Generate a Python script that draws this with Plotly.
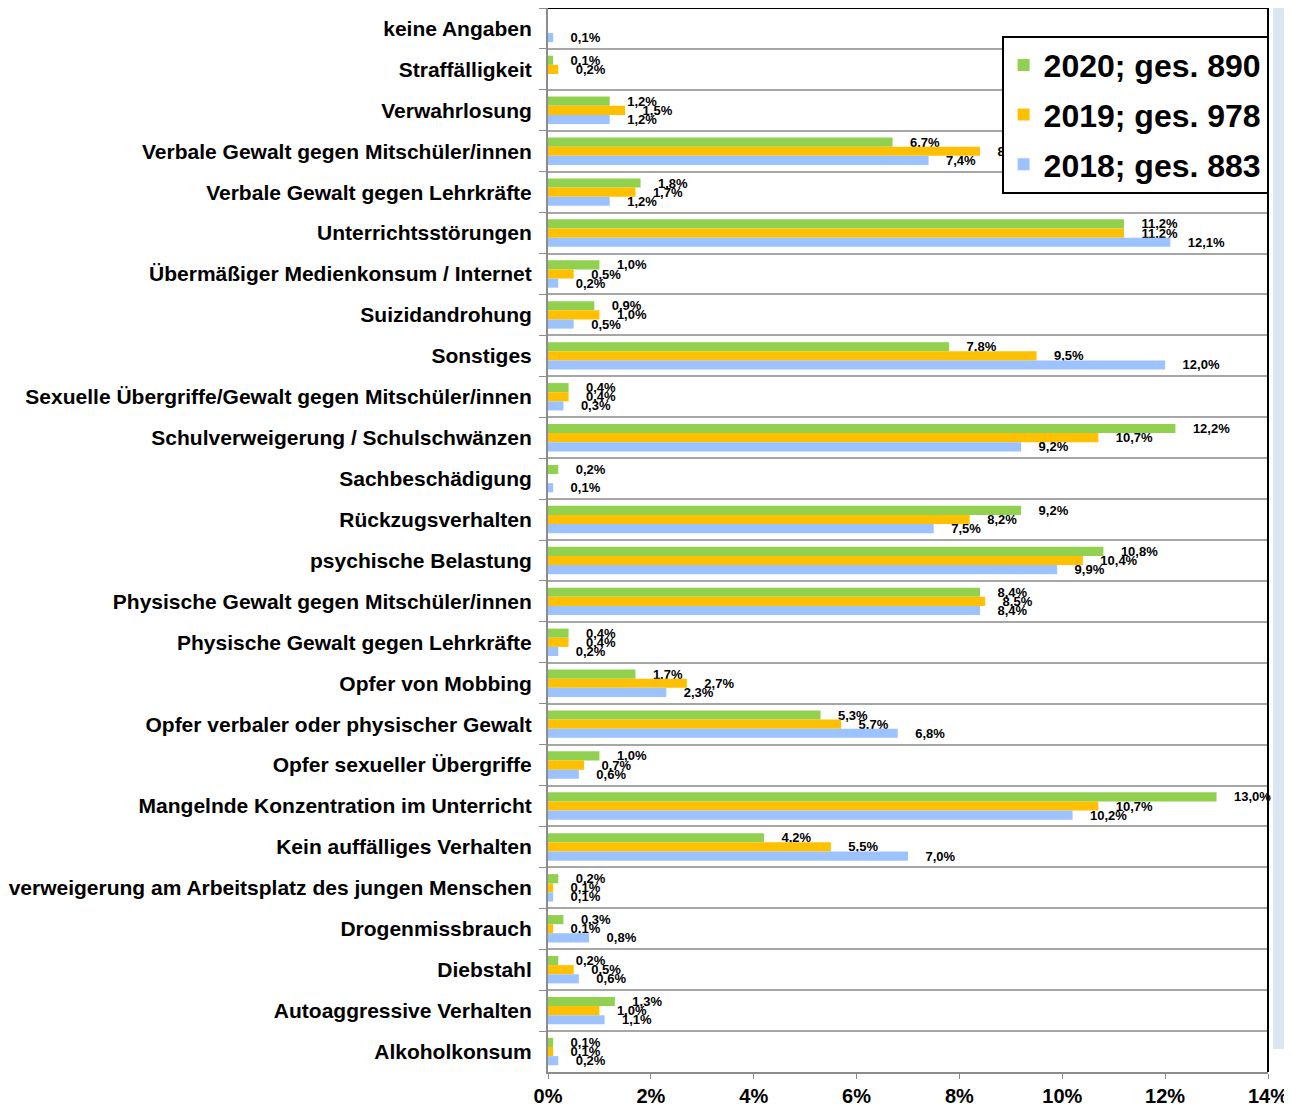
import plotly.graph_objects as go

categories = [
    "keine Angaben",
    "Straffälligkeit",
    "Verwahrlosung",
    "Verbale Gewalt gegen Mitschüler/innen",
    "Verbale Gewalt gegen Lehrkräfte",
    "Unterrichtsstörungen",
    "Übermäßiger Medienkonsum / Internet",
    "Suizidandrohung",
    "Sonstiges",
    "Sexuelle Übergriffe/Gewalt gegen Mitschüler/innen",
    "Schulverweigerung / Schulschwänzen",
    "Sachbeschädigung",
    "Rückzugsverhalten",
    "psychische Belastung",
    "Physische Gewalt gegen Mitschüler/innen",
    "Physische Gewalt gegen Lehrkräfte",
    "Opfer von Mobbing",
    "Opfer verbaler oder physischer Gewalt",
    "Opfer sexueller Übergriffe",
    "Mangelnde Konzentration im Unterricht",
    "Kein auffälliges Verhalten",
    "Arbeitsverweigerung am Arbeitsplatz des jungen Menschen",
    "Drogenmissbrauch",
    "Diebstahl",
    "Autoaggressive Verhalten",
    "Alkoholkonsum",
]

v2020 = [None, 0.1, 1.2, 6.7, 1.8, 11.2, 1.0, 0.9, 7.8, 0.4, 12.2, 0.2, 9.2, 10.8,
         8.4, 0.4, 1.7, 5.3, 1.0, 13.0, 4.2, 0.2, 0.3, 0.2, 1.3, 0.1]
v2019 = [None, 0.2, 1.5, 8.4, 1.7, 11.2, 0.5, 1.0, 9.5, 0.4, 10.7, None, 8.2, 10.4,
         8.5, 0.4, 2.7, 5.7, 0.7, 10.7, 5.5, 0.1, 0.1, 0.5, 1.0, 0.1]
v2018 = [0.1, None, 1.2, 7.4, 1.2, 12.1, 0.2, 0.5, 12.0, 0.3, 9.2, 0.1, 7.5, 9.9,
         8.4, 0.2, 2.3, 6.8, 0.6, 10.2, 7.0, 0.1, 0.8, 0.6, 1.1, 0.2]

series_names = ["2020; ges. 890", "2019; ges. 978", "2018; ges. 883"]
series_colors = ["#92d050", "#ffc000", "#9cc3ff"]

x_tickvals = [0, 2, 4, 6, 8, 10, 12, 14]
x_ticktext = ["0%", "2%", "4%", "6%", "8%", "10%", "12%", "14%"]

BASE = "Arial, Liberation Sans, sans-serif"
NARROW = "Arial Narrow, Liberation Sans Narrow, Liberation Sans, sans-serif"


def fmt(v):
    if v is None:
        return ""
    return "\u00a0\u00a0\u00a0\u00a0" + f"{v:.1f}".replace(".", ",") + "%"


fig = go.Figure()
for name, color, vals in zip(series_names, series_colors, [v2020, v2019, v2018]):
    fig.add_trace(go.Bar(
        y=categories, x=vals, orientation="h", name=name,
        marker=dict(color=color, line=dict(width=0)),
        text=[fmt(v) for v in vals], textposition="outside",
        textfont=dict(family=NARROW, size=13, color="black", weight="bold"),
        cliponaxis=False, constraintext="none",
    ))

# page body adds an 8px offset; compensate in size/margins
fig.update_layout(
    width=1284, height=1100,
    margin=dict(l=540, r=24, t=0, b=36, autoexpand=False),
    paper_bgcolor="white", plot_bgcolor="white",
    barmode="group", bargap=0.33, bargroupgap=0,
    font=dict(family=BASE, color="black"),
    showlegend=True,
    legend=dict(
        x=0.63, y=0.974, xanchor="left", yanchor="top",
        bgcolor="white", bordercolor="black", borderwidth=2,
        font=dict(family=BASE, size=32, color="black", weight="bold"),
        tracegroupgap=5,
    ),
    xaxis=dict(
        range=[0, 14], tickvals=x_tickvals, ticktext=x_ticktext,
        showgrid=False, zeroline=False, automargin=False,
        showline=True, linecolor="#8c8c8c", linewidth=2,
        ticks="outside", ticklen=5, tickcolor="#8c8c8c", tickwidth=1,
        tickfont=dict(family=BASE, size=20, color="black", weight="bold"),
    ),
    yaxis=dict(
        type="category", autorange="reversed", automargin=False,
        tickson="boundaries", ticks="outside", ticklen=7,
        tickcolor="#8c8c8c", tickwidth=1,
        showgrid=True, gridcolor="#a6a6a6", gridwidth=2,
        showline=True, linecolor="#8c8c8c", linewidth=2,
        ticklabelstandoff=10,
        tickfont=dict(family=BASE, size=21, color="black", weight="bold"),
    ),
    shapes=[
        dict(type="rect", xref="paper", yref="paper", x0=1.007, x1=1.04,
             y0=0.0215, y1=1.01, fillcolor="#dce6f2", line=dict(width=0),
             layer="below"),
        dict(type="line", xref="paper", yref="paper", x0=0, x1=1, y0=1, y1=1,
             line=dict(color="black", width=2)),
        dict(type="line", xref="paper", yref="paper", x0=1, x1=1, y0=0, y1=1,
             line=dict(color="black", width=2)),
    ],
)

for i, tr in enumerate(fig.data):
    tr.legendgroup = f"g{i}"

fig.write_html("out.html")
